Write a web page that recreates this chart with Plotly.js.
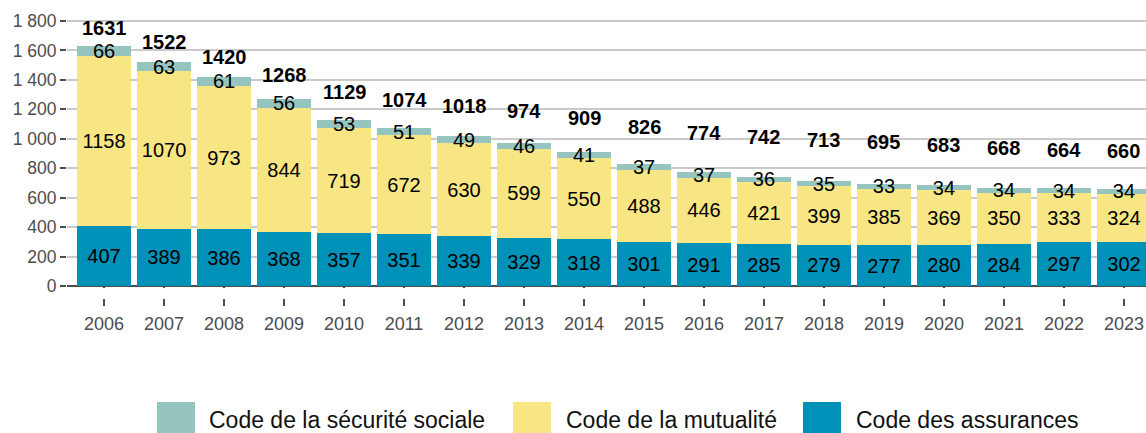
<!DOCTYPE html>
<html>
<head>
<meta charset="utf-8">
<script src="https://cdn.plot.ly/plotly-3.0.1.min.js"></script>
<style>
  html, body { margin: 0; padding: 0; background: #fff; }
  #chart { width: 1146px; height: 433px; }
</style>
</head>
<body>
<div id="chart"></div>
<script>
// ---- data ----
const years = ['2006','2007','2008','2009','2010','2011','2012','2013','2014','2015','2016','2017','2018','2019','2020','2021','2022','2023'];
const assurances = [407,389,386,368,357,351,339,329,318,301,291,285,279,277,280,284,297,302];
const mutualite = [1158,1070,973,844,719,672,630,599,550,488,446,421,399,385,369,350,333,324];
const securiteSociale = [66,63,61,56,53,51,49,46,41,37,37,36,35,33,34,34,34,34];
const totals = [1631,1522,1420,1268,1129,1074,1018,974,909,826,774,742,713,695,683,668,664,660];
const seriesNames = ['Code des assurances','Code de la mutualité','Code de la sécurité sociale'];
const yTickVals = [0,200,400,600,800,1000,1200,1400,1600,1800];

// ---- style ----
const colors = {
  assurances: '#0091B9',
  mutualite: '#F8E684',
  securite: '#96C4BE'
};
const FONT = 'Liberation Sans, Arial, sans-serif';
// pixel offsets of the bold total labels above each bar (styling)
const totalLabelShift = [18,20,20,24,28,28,30,32,34,37,39,40,41,42,40,40,38,38];

const W = 1146, H = 433;
const M = {l: 67, r: 0, t: 10, b: 147};
const PW = W - M.l - M.r, PH = H - M.t - M.b;
const X_RANGE = [-0.617, 17.367];
const Y_RANGE = [0, 1874.7];
const px2x = p => (p - M.l) / PW;
const px2y = p => (M.t + PH - p) / PH;

function barTrace(name, vals, color) {
  return {
    type: 'bar',
    name: name,
    x: years,
    y: vals,
    text: vals.map(String),
    textposition: 'inside',
    insidetextanchor: 'middle',
    textangle: 0,
    constraintext: 'none',
    insidetextfont: {family: FONT, size: 20, color: '#000'},
    marker: {color: color, line: {width: 0}},
    hoverinfo: 'skip',
    showlegend: false,
    cliponaxis: true
  };
}

const traces = [
  barTrace(seriesNames[0], assurances, colors.assurances),
  barTrace(seriesNames[1], mutualite, colors.mutualite),
  barTrace(seriesNames[2], securiteSociale, colors.securite)
];

const annotations = totals.map((t, i) => ({
  x: i, y: t, xref: 'x', yref: 'y',
  text: '<b>' + t + '</b>',
  showarrow: false,
  xanchor: 'center', yanchor: 'middle',
  yshift: totalLabelShift[i],
  font: {family: FONT, size: 20, color: '#000'}
}));

const shapes = [
  // white band that detaches the x tick marks from the axis
  {
    type: 'rect', xref: 'paper', yref: 'paper', layer: 'above',
    x0: 0, x1: 1, y0: px2y(299), y1: px2y(288),
    fillcolor: '#ffffff', line: {width: 0}
  }
];
// manual legend (order as in reference)
const legendItems = [
  {name: seriesNames[2], color: colors.securite, sw: 157, tx: 208},
  {name: seriesNames[1], color: colors.mutualite, sw: 513, tx: 565},
  {name: seriesNames[0], color: colors.assurances, sw: 803, tx: 855}
];
legendItems.forEach(it => {
  shapes.push({
    type: 'rect', xref: 'paper', yref: 'paper',
    x0: px2x(it.sw), x1: px2x(it.sw + 38),
    y0: px2y(402), y1: px2y(440),
    fillcolor: it.color, line: {width: 0}
  });
  annotations.push({
    xref: 'paper', yref: 'paper',
    x: px2x(it.tx), y: px2y(420),
    xanchor: 'left', yanchor: 'middle',
    text: it.name, showarrow: false,
    borderpad: 0,
    font: {family: FONT, size: 23, color: '#111'}
  });
});

const layout = {
  width: W, height: H,
  margin: M,
  paper_bgcolor: '#fff', plot_bgcolor: '#fff',
  barmode: 'stack',
  bargap: 0.1,
  separators: ', ',
  showlegend: false,
  font: {family: FONT},
  xaxis: {
    type: 'category',
    range: X_RANGE,
    showgrid: false,
    zeroline: false,
    showline: false,
    ticks: 'outside',
    ticklen: 19,
    tickwidth: 2,
    tickcolor: '#4d4d4d',
    ticklabelstandoff: 2,
    tickfont: {family: FONT, size: 18, color: '#4d4d4d'},
    fixedrange: true
  },
  yaxis: {
    range: Y_RANGE,
    tickvals: yTickVals,
    tickformat: ',d',
    ticks: 'outside',
    ticklen: 6,
    tickwidth: 2,
    tickcolor: '#4d4d4d',
    showgrid: true,
    gridcolor: '#cacaca',
    gridwidth: 2,
    zeroline: true,
    zerolinecolor: '#4d4d4d',
    zerolinewidth: 2,
    showline: false,
    tickfont: {family: FONT, size: 17.5, color: '#4d4d4d'},
    fixedrange: true
  },
  annotations: annotations,
  shapes: shapes
};

Plotly.newPlot('chart', traces, layout, {displayModeBar: false, staticPlot: true});
</script>
</body>
</html>
